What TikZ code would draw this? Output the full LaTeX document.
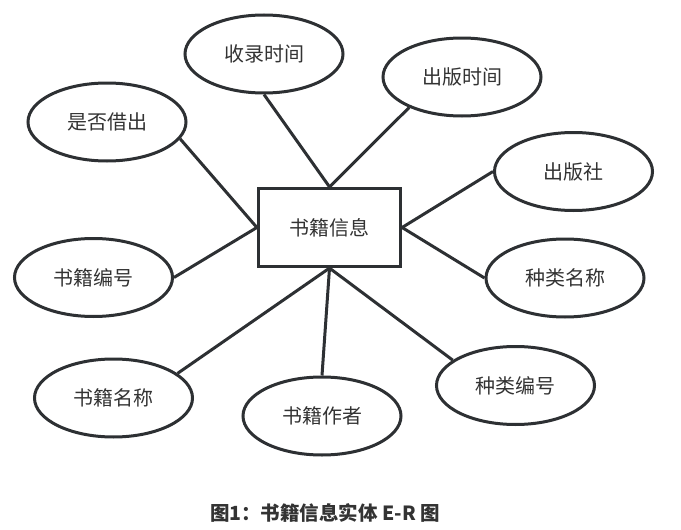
\documentclass[tikz,border=0pt]{standalone}
\usepackage{fontspec}
\setmainfont{Noto Sans CJK SC}
\usepackage{xcolor}
\usetikzlibrary{shapes.geometric}
\definecolor{linegray}{HTML}{2D3033}
\definecolor{textgray}{HTML}{333333}
\begin{document}
\begin{tikzpicture}[x=1pt,y=-1pt]
\tikzstyle{attr}=[ellipse, draw=linegray, line width=3pt, minimum width=158pt, minimum height=78pt, inner sep=0pt, text=textgray, font=\fontsize{20}{20}\selectfont]
\tikzstyle{entity}=[rectangle, draw=linegray, line width=3.2pt, minimum width=142pt, minimum height=78pt, text=textgray, font=\fontsize{20}{20}\selectfont]
\tikzstyle{connect}=[draw=linegray, line width=3pt]
  \useasboundingbox (0,0) rectangle (681,530);
  \node[entity] (book) at (329.5,227.5) {书籍信息};
  \node[attr] (intime) at (264,54) {收录时间};
  \node[attr] (pubtime) at (462,77) {出版时间};
  \node[attr] (lent) at (107,122) {是否借出};
  \node[attr] (press) at (573.5,171.5) {出版社};
  \node[attr] (bookid) at (93.5,277.5) {书籍编号};
  \node[attr] (typename) at (565,278) {种类名称};
  \node[attr] (bookname) at (113.5,398) {书籍名称};
  \node[attr] (author) at (322,416) {书籍作者};
  \node[attr] (typeid) at (515.5,385.5) {种类编号};
  \path (book.north) edge [connect] (intime.south)
        (book.north) edge [connect] (pubtime.210)
        (book.west) edge [connect] (lent.347)
        (book.west) edge [connect] (bookid.east)
        (book.east) edge [connect] (press.west)
        (book.east) edge [connect] (typename.west)
        (book.south) edge [connect] (bookname.21)
        (book.south) edge [connect] (author.north)
        (book.south) edge [connect] (typeid.158);
  \node[text=textgray, font=\fontsize{19.5}{19.5}\selectfont\bfseries] (caption) at (325,513) {图1：书籍信息实体 E-R 图};
\end{tikzpicture}
\end{document}
